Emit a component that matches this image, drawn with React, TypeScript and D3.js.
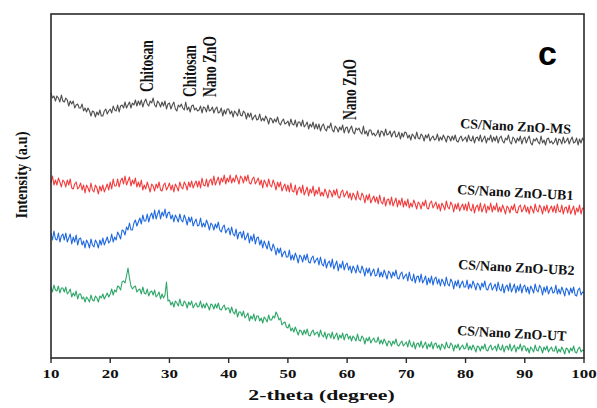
import React from 'react';
import * as d3 from 'd3';

// 2-theta sampled every 0.25 degree from 10 to 100
const twoTheta = d3.range(10, 100.001, 0.25);
const xTicks = [10, 20, 30, 40, 50, 60, 70, 80, 90, 100];

// intensities (a.u.), one row = 5 degrees
const ms = [
  265,260,262,257,262,260,256,263,257,256,260,258,252,257,254,257,250,253,254,250,
  250,254,247,250,246,250,247,242,247,246,241,246,243,248,242,242,247,249,244,247,
  249,245,252,248,247,253,246,252,253,250,256,250,253,256,250,255,253,258,252,257,
  253,258,251,256,259,254,252,257,255,260,253,251,257,255,251,256,252,257,249,254,
  255,249,253,256,249,247,253,251,254,250,248,256,248,251,246,252,253,248,250,247,
  248,252,245,251,250,246,253,247,248,251,245,249,251,245,246,250,242,248,244,249,
  249,244,247,241,247,245,242,249,243,242,247,245,239,245,241,245,238,241,243,238,
  239,244,237,240,237,242,239,234,240,239,235,239,236,241,235,233,237,239,234,235,
  237,232,239,234,233,238,231,236,236,232,238,231,233,236,229,234,231,236,229,234,
  229,234,227,232,234,229,227,232,230,235,228,226,232,230,226,231,228,233,225,230,
  231,225,229,232,226,224,230,228,230,226,224,232,224,227,222,228,228,223,225,222,
  224,228,221,227,226,222,229,223,224,227,221,225,227,221,222,226,219,225,221,226,
  225,220,223,218,224,222,219,226,220,219,224,222,217,223,220,224,217,220,222,218,
  219,224,217,221,218,223,220,216,222,221,217,222,218,223,217,216,220,222,217,219,
  221,216,223,218,217,222,215,220,221,217,223,216,219,222,215,220,218,223,216,221,
  217,222,215,220,222,217,215,220,218,223,216,214,221,219,215,220,217,222,214,219,
  221,215,219,222,215,213,219,217,220,216,214,222,215,218,213,219,220,215,217,214,
  216,220,213,219,218,214,221,215,217,220,214,218,221,215,216,220,213,219,215,220,
  217,
];
const ub1 = [
  175,182,173,178,173,180,176,171,178,176,171,178,173,179,170,169,174,176,169,171,
  175,168,173,165,173,170,166,175,168,166,173,170,164,172,167,173,166,170,174,168,
  176,169,179,172,172,179,171,177,180,174,182,173,177,181,172,178,174,180,171,176,
  171,178,168,173,169,176,171,166,174,172,167,174,170,176,168,167,173,175,168,171,
  175,168,173,166,174,171,167,176,171,169,176,173,168,176,171,177,170,174,177,171,
  177,170,180,173,172,179,171,177,179,173,182,173,177,181,173,180,176,183,174,180,
  176,183,175,180,176,183,179,174,182,180,175,182,177,183,175,174,179,181,174,177,
  180,173,178,170,178,175,171,179,173,171,178,174,168,176,171,176,167,171,174,167,
  173,166,175,167,166,173,163,169,171,165,173,163,167,171,162,169,165,172,162,168,
  164,171,162,166,162,169,165,160,168,166,161,168,163,169,161,160,166,168,161,164,
  167,160,165,158,165,162,158,167,160,158,165,162,155,163,158,164,155,159,162,156,
  161,154,163,156,154,161,152,158,159,153,161,152,156,160,151,158,153,160,151,157,
  152,159,150,155,151,158,154,149,156,154,149,156,152,158,150,149,155,157,150,153,
  156,149,154,147,155,152,148,157,151,149,156,153,146,154,149,155,147,151,154,148,
  154,147,156,149,147,154,145,151,153,147,155,146,150,154,145,152,148,155,146,152,
  148,155,146,151,146,153,149,144,152,150,145,152,148,154,146,145,151,153,146,149,
  153,146,151,144,152,149,145,154,148,146,153,150,144,152,147,153,145,149,152,146,
  152,145,154,147,146,153,144,150,151,145,153,144,148,152,143,150,146,153,144,150,
  149,
];
const ub2 = [
  125,118,127,119,118,125,116,122,124,118,125,116,120,124,114,121,116,123,113,119,
  120,113,117,110,118,115,110,119,113,111,118,115,110,118,113,120,113,117,121,115,
  117,124,116,121,118,126,123,119,128,127,123,131,128,135,128,128,135,138,132,136,
  140,134,143,137,137,144,136,142,145,139,148,139,144,148,139,146,142,149,140,145,
  146,139,143,136,143,140,136,144,138,136,143,139,133,141,136,141,132,136,139,132,
  133,140,131,135,131,138,134,128,135,133,128,134,130,136,128,126,131,133,125,128,
  130,123,131,124,122,129,119,125,126,120,127,118,121,125,115,122,117,124,114,120,
  121,113,118,110,117,113,109,117,110,107,114,110,103,110,105,110,101,105,107,101,
  101,108,98,103,98,105,101,95,103,101,96,103,98,104,96,95,100,102,95,98,
  100,93,101,94,92,99,90,95,97,91,99,89,93,97,87,94,90,97,88,93,
  95,88,92,85,92,89,85,93,87,85,92,88,82,90,85,90,82,86,89,82,
  83,90,81,86,81,88,84,79,87,85,80,86,82,88,80,79,84,86,79,82,
  84,77,86,79,77,84,75,81,82,76,84,75,78,82,73,80,75,82,73,79,
  81,74,79,72,79,76,72,81,74,72,79,76,69,77,72,78,70,74,77,71,
  71,78,69,74,70,77,73,68,75,73,68,75,71,77,69,68,73,75,68,71,
  74,67,76,69,67,74,65,71,73,67,75,66,70,74,65,72,67,74,65,71,
  73,66,71,64,72,69,65,74,68,66,73,70,63,71,66,72,64,68,71,65,
  66,73,64,69,64,71,67,62,70,68,63,70,65,71,63,62,68,70,63,66,
  65,
];
const ut = [
  71,66,73,68,67,72,65,70,70,66,71,64,66,69,61,65,62,67,59,64,
  64,59,61,56,61,59,56,63,58,57,62,60,56,62,60,64,59,62,65,61,
  64,69,63,68,66,72,71,68,76,77,75,82,90,80,72,69,71,72,66,68,
  69,64,71,65,64,69,62,66,67,63,68,61,63,66,59,64,60,63,76,57,
  58,53,56,51,57,55,52,59,53,52,57,55,50,56,53,57,50,53,55,51,
  52,57,50,54,50,55,52,48,54,53,49,54,50,55,49,48,51,53,48,50,
  50,45,51,46,44,49,41,46,46,42,47,40,42,45,37,42,39,44,37,42,
  42,37,40,35,41,39,36,43,38,38,42,40,46,43,38,40,33,35,36,31,
  30,34,27,30,26,31,27,23,28,27,23,28,24,29,23,22,26,28,23,25,
  26,21,28,23,21,26,19,24,24,20,26,19,22,25,18,23,20,25,18,23,
  24,19,22,17,22,20,17,24,18,17,22,20,14,20,17,21,15,18,20,16,
  16,21,14,18,14,19,16,12,17,16,12,17,14,19,13,12,15,17,12,14,
  16,11,18,13,11,16,9,14,15,11,17,10,13,16,9,14,11,16,9,14,
  15,10,13,8,14,12,9,16,11,10,15,13,7,13,10,14,8,11,13,9,
  10,15,8,12,8,13,10,6,12,11,7,12,9,14,8,7,11,13,8,10,
  12,7,14,9,8,13,6,11,12,8,14,7,10,13,6,11,9,14,7,12,
  12,7,10,5,11,9,6,13,8,7,12,10,5,11,8,12,6,9,11,7,
  7,12,5,9,6,11,8,4,10,9,5,10,7,12,6,5,9,11,6,8,
  7,
];

const seriesNames = ['CS/Nano ZnO-MS', 'CS/Nano ZnO-UB1', 'CS/Nano ZnO-UB2', 'CS/Nano ZnO-UT'];
const seriesData = [ms, ub1, ub2, ut];
const seriesColors = ['#4f4f4f', '#f23c3c', '#1f68e0', '#2ea768'];

// peak annotations: [2-theta, text, bottom of text in px]
const peakLabels: [number, string, number][] = [
  [26.2, 'Chitosan', 92],
  [33.5, 'Chitosan', 97],
  [36.9, 'Nano ZnO', 97],
  [60.5, 'Nano ZnO', 120],
];

const W = 597, H = 408;
const left = 51, right = 584, top = 14, bottom = 358;

const App = () => {
  const x = d3.scaleLinear().domain([10, 100]).range([left, right]);
  const y = d3.scaleLinear().domain([0, 344]).range([bottom, top]);
  const line = d3.line<number>()
    .x((_, i) => x(twoTheta[i]))
    .y(d => y(d));

  // label anchors for the series (left baseline)
  const labelPos = [[460, 128], [457, 194], [458, 269], [457, 335]];

  return (
    <svg width={W} height={H} style={{ position: 'absolute', left: 0, top: 0, background: '#fff' }}>
      {seriesData.map((s, k) => (
        <path key={k} d={line(s) || ''} fill="none" stroke={seriesColors[k]} strokeWidth={1.1} strokeLinejoin="round" />
      ))}

      <rect x={left} y={top} width={right - left} height={bottom - top} fill="none" stroke="#2a2a2a" strokeWidth={1.6} />

      {xTicks.map(t => (
        <g key={t}>
          <line x1={x(t)} x2={x(t)} y1={bottom} y2={bottom + 5} stroke="#2a2a2a" strokeWidth={1.4} />
          <text transform={`translate(${x(t)},378) scale(1.3,1)`} textAnchor="middle"
            fontFamily="Liberation Serif" fontWeight="bold" fontSize={13} fill="#111">{t}</text>
        </g>
      ))}

      <text transform={`translate(${(left + right) / 2 + 4},400) scale(1.45,1)`} textAnchor="middle"
        fontFamily="Liberation Serif" fontWeight="bold" fontSize={15} fill="#111">2-theta (degree)</text>

      <text transform={`translate(27,175) scale(1.2,1) rotate(-90)`} textAnchor="middle"
        fontFamily="Liberation Serif" fontWeight="bold" fontSize={14.5} fill="#111">Intensity (a.u)</text>

      {peakLabels.map(([t, txt, yb], i) => (
        <text key={i} transform={`translate(${x(t) + 6},${yb}) scale(1.4,1) rotate(-90)`}
          fontFamily="Liberation Serif" fontWeight="bold" fontSize={13.5} fill="#111">{txt}</text>
      ))}

      {seriesNames.map((n, k) => (
        <text key={n} transform={`translate(${labelPos[k][0]},${labelPos[k][1]}) rotate(3)`}
          fontFamily="Liberation Serif" fontWeight="bold" fontSize={14} fill="#111">{n}</text>
      ))}

      <text x={538} y={65} fontFamily="Liberation Sans" fontWeight="bold" fontSize={34} fill="#000">c</text>
    </svg>
  );
};

export default App;
